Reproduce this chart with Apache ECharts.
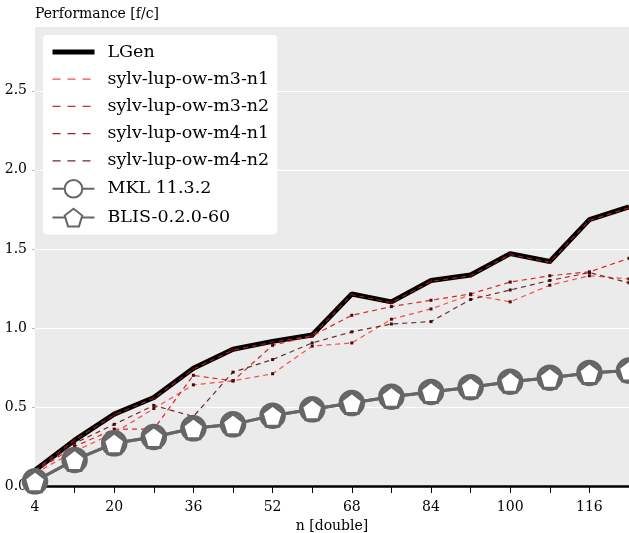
<!DOCTYPE html>
<html>
<head>
<meta charset="utf-8">
<title>Performance</title>
<script src="https://cdn.jsdelivr.net/npm/echarts@6/dist/echarts.min.js"></script>
<style>
  html, body { margin: 0; padding: 0; background: #fff; }
  #main { width: 629px; height: 533px; }
</style>
</head>
<body>
<div id="main"></div>
<script>
// 横轴 n 的取值
var sizes = [4, 12, 20, 28, 36, 44, 52, 60, 68, 76, 84, 92, 100, 108, 116, 124]

// 各条曲线的性能数据 (f/c)
var lgen = [0.10, 0.29, 0.455, 0.56, 0.745, 0.865, 0.915, 0.955, 1.215, 1.165, 1.30, 1.335, 1.47, 1.42, 1.685, 1.765]
var m3n1 = [0.08, 0.22, 0.335, 0.49, 0.64, 0.665, 0.71, 0.885, 0.905, 1.055, 1.12, 1.21, 1.165, 1.27, 1.33, 1.31]
var m3n2 = [0.09, 0.25, 0.36, 0.36, 0.70, 0.665, 0.89, 0.95, 1.08, 1.135, 1.175, 1.215, 1.29, 1.33, 1.355, 1.44]
var m4n1 = [0.10, 0.29, 0.45, 0.555, 0.74, 0.86, 0.91, 0.95, 1.21, 1.16, 1.295, 1.33, 1.465, 1.415, 1.68, 1.76]
var m4n2 = [0.09, 0.27, 0.39, 0.51, 0.44, 0.72, 0.80, 0.905, 0.975, 1.025, 1.04, 1.18, 1.24, 1.30, 1.35, 1.285]
var mkl = [0.03, 0.165, 0.27, 0.31, 0.365, 0.39, 0.445, 0.485, 0.525, 0.565, 0.595, 0.625, 0.66, 0.685, 0.715, 0.73]
var blis = [0.03, 0.165, 0.27, 0.31, 0.365, 0.39, 0.445, 0.485, 0.525, 0.565, 0.595, 0.625, 0.66, 0.685, 0.715, 0.73]

// 刻度标签
var xTickLabels = ['4', '20', '36', '52', '68', '84', '100', '116']
var yTickLabels = ['0.0', '0.5', '1.0', '1.5', '2.0', '2.5']

var font = 'DejaVu Serif'
var pentagon = 'path://M0,-1 L0.951,-0.309 L0.588,0.809 L-0.588,0.809 L-0.951,-0.309 Z'

var colors = {
    m3n1: '#ff4a4a',
    m3n2: '#dd2626',
    m4n1: '#a81c1c',
    m4n2: '#6e2c2c'
}

var pairs = function(ys) {
    var r = []
    for (var i = 0; i < sizes.length; i++) {
        r.push([sizes[i], ys[i]])
    }
    return r
}

var dashed = function(name, ys, color) {
    return {
        name: name,
        type: 'line',
        data: pairs(ys),
        symbol: 'rect',
        symbolSize: 3,
        itemStyle: { color: '#4a0808' },
        lineStyle: { color: color, width: 1.2, type: [5, 4] },
        color: color
    }
}

// 图例里虚线和粗线只画线, 不画点
var lineOnly = function(name, width, color, type) {
    return {
        name: name,
        itemStyle: { opacity: 0 },
        lineStyle: { width: width, color: color, type: type }
    }
}

var chart = echarts.init(document.getElementById('main'))

var option = {
    animation: false,
    backgroundColor: '#fff',
    textStyle: { fontFamily: font, color: '#000' },
    grid: {
        left: 35, right: 0, top: 26, bottom: 47,
        outerBoundsMode: 'none',
        containLabel: false,
        backgroundColor: '#ebebeb', show: true, borderWidth: 0
    },
    legend: {
        left: 43,
        top: 35,
        orient: 'vertical',
        backgroundColor: '#fff',
        borderRadius: 4,
        padding: [8, 8, 7, 7],
        itemWidth: 42,
        itemHeight: 22,
        itemGap: 9.2,
        textStyle: { fontFamily: font, fontSize: 17.5, color: '#000', padding: [0, 0, 0, 8] },
        data: [
            lineOnly('LGen', 5, '#000', 'solid'),
            lineOnly('sylv-lup-ow-m3-n1', 1.3, colors.m3n1, [8, 7]),
            lineOnly('sylv-lup-ow-m3-n2', 1.3, colors.m3n2, [8, 7]),
            lineOnly('sylv-lup-ow-m4-n1', 1.3, colors.m4n1, [8, 7]),
            lineOnly('sylv-lup-ow-m4-n2', 1.3, colors.m4n2, [8, 7]),
            'MKL 11.3.2',
            'BLIS-0.2.0-60'
        ]
    },
    xAxis: {
        type: 'value',
        min: 4,
        max: 124,
        interval: 8,
        name: 'n [double]',
        nameLocation: 'middle',
        nameGap: 33,
        nameTextStyle: { fontFamily: font, fontSize: 14, color: '#000' },
        axisLine: { show: true, lineStyle: { color: '#000', width: 2.5 } },
        axisTick: { show: true, length: 7, lineStyle: { color: '#000', width: 1 } },
        axisLabel: {
            fontFamily: font, fontSize: 14, color: '#000', margin: 14,
            formatter: function(v) {
                var k = (v - 4) / 16
                return Number.isInteger(k) && xTickLabels[k] ? xTickLabels[k] : ''
            }
        },
        splitLine: { show: false }
    },
    yAxis: {
        type: 'value',
        min: 0,
        max: 2.91,
        interval: 0.5,
        name: 'Performance [f/c]',
        nameLocation: 'end',
        nameGap: 5,
        nameTextStyle: { fontFamily: font, fontSize: 14, color: '#000', align: 'left' },
        axisLine: { show: false },
        axisTick: { show: true, length: 3, lineStyle: { color: '#bbb' } },
        axisLabel: {
            fontFamily: font, fontSize: 14, color: '#000', margin: 8, showMaxLabel: false,
            formatter: function(v) {
                var k = Math.round(v / 0.5)
                return Math.abs(v - k * 0.5) < 1e-6 && yTickLabels[k] ? yTickLabels[k] : ''
            }
        },
        splitLine: { show: true, lineStyle: { color: '#fff', width: 1.2 } }
    },
    series: [
        {
            name: 'LGen',
            type: 'line',
            data: pairs(lgen),
            symbol: 'none',
            color: '#000',
            lineStyle: { color: '#000', width: 5 }
        },
        dashed('sylv-lup-ow-m3-n1', m3n1, colors.m3n1),
        dashed('sylv-lup-ow-m3-n2', m3n2, colors.m3n2),
        dashed('sylv-lup-ow-m4-n1', m4n1, colors.m4n1),
        dashed('sylv-lup-ow-m4-n2', m4n2, colors.m4n2),
        {
            name: 'MKL 11.3.2',
            type: 'line',
            data: pairs(mkl),
            symbol: 'circle',
            symbolSize: 23,
            color: '#666',
            itemStyle: { color: '#fff', borderColor: '#666', borderWidth: 3.5 },
            lineStyle: { color: '#666', width: 3 }
        },
        {
            name: 'BLIS-0.2.0-60',
            type: 'line',
            data: pairs(blis),
            symbol: pentagon,
            symbolSize: 21,
            color: '#666',
            itemStyle: { color: '#fff', borderColor: '#666', borderWidth: 3 },
            lineStyle: { color: '#666', width: 3 }
        }
    ]
}

chart.setOption(option)
</script>
</body>
</html>
